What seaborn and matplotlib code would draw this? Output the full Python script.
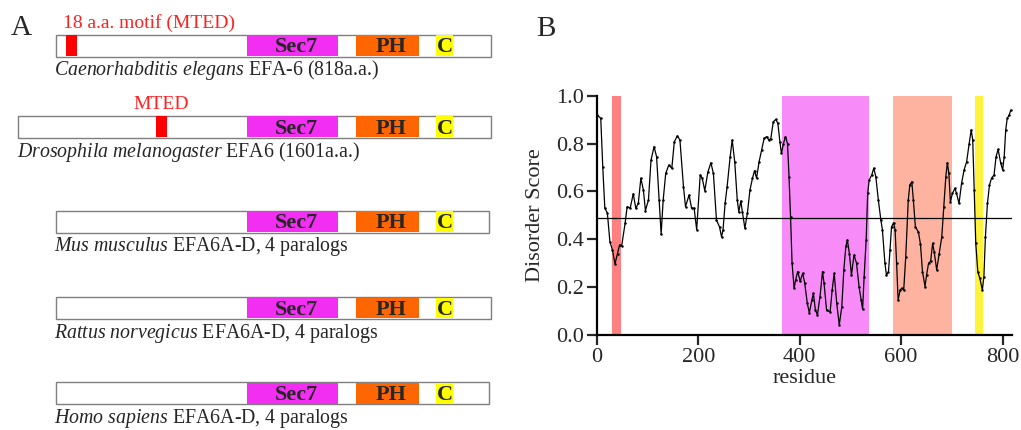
import numpy as np
import pandas as pd
import matplotlib
matplotlib.use("Agg")
import matplotlib.pyplot as plt
import seaborn as sns
from matplotlib.patches import Rectangle

# Panel A: schematic domain layout (units: C. elegans residues)
species = ["Caenorhabditis elegans", "Drosophila melanogaster", "Mus musculus",
           "Rattus norvegicus", "Homo sapiens"]
suffix = [" EFA-6 (818a.a.)", " EFA6 (1601a.a.)", " EFA6A-D, 4 paralogs",
          " EFA6A-D, 4 paralogs", " EFA6A-D, 4 paralogs"]
prot_start = [0, -70, 0, 0, 0]
prot_end = [818, 818, 815, 818, 815]
sec7 = (360, 530)
ph = (564, 683)
cterm = (714, 746)
mted = [(19, 40), (189, 209), None, None, None]
mted_label = ["18 a.a. motif (MTED)", "MTED", None, None, None]

# Panel B: disorder score per residue
residue = [1, 8, 12, 16, 21, 26, 31, 36, 41, 45, 49, 56, 60, 66, 72, 77, 82, 87, 92, 96,
           102, 107, 113, 118, 123, 127, 131, 136, 142, 148, 153, 159, 164, 171, 175, 182,
           187, 192, 197, 204, 208, 213, 219, 225, 230, 236, 242, 246, 249, 253, 257, 263,
           267, 272, 277, 280, 284, 287, 292, 297, 302, 307, 311, 315, 320, 325, 330, 335,
           339, 343, 348, 353, 357, 361, 364, 368, 372, 376, 379, 382, 385, 389, 392, 396,
           401, 406, 410, 415, 419, 424, 427, 431, 435, 440, 445, 448, 453, 460, 464, 468,
           473, 478, 483, 487, 491, 494, 498, 502, 507, 512, 517, 521, 524, 527, 531, 534,
           537, 542, 546, 550, 555, 560, 563, 568, 571, 575, 578, 581, 585, 588, 591, 594,
           598, 601, 605, 609, 614, 617, 621, 624, 628, 634, 638, 642, 647, 650, 654, 658,
           662, 665, 670, 675, 680, 684, 688, 691, 694, 697, 701, 706, 709, 714, 719, 724,
           729, 734, 738, 741, 744, 747, 751, 755, 760, 763, 766, 770, 774, 778, 783, 787,
           791, 796, 800, 803, 806, 809, 813, 816]
score = [0.92, 0.905, 0.70, 0.53, 0.51, 0.39, 0.355, 0.297, 0.34, 0.376, 0.37, 0.467, 0.536,
         0.53, 0.59, 0.53, 0.55, 0.655, 0.606, 0.52, 0.564, 0.73, 0.787, 0.745, 0.564, 0.422,
         0.564, 0.675, 0.71, 0.697, 0.808, 0.832, 0.815, 0.62, 0.536, 0.585, 0.53, 0.53, 0.44,
         0.669, 0.655, 0.603, 0.68, 0.72, 0.675, 0.48, 0.452, 0.41, 0.44, 0.55, 0.62, 0.745,
         0.815, 0.724, 0.564, 0.515, 0.56, 0.515, 0.446, 0.51, 0.606, 0.655, 0.687, 0.655,
         0.724, 0.773, 0.822, 0.829, 0.815, 0.82, 0.891, 0.901, 0.885, 0.808, 0.759, 0.80,
         0.829, 0.80, 0.662, 0.494, 0.30, 0.195, 0.23, 0.265, 0.225, 0.258, 0.216, 0.132,
         0.093, 0.146, 0.174, 0.104, 0.084, 0.16, 0.265, 0.216, 0.104, 0.097, 0.188, 0.258,
         0.132, 0.042, 0.118, 0.272, 0.37, 0.397, 0.34, 0.25, 0.334, 0.30, 0.202, 0.146,
         0.107, 0.244, 0.397, 0.592, 0.648, 0.669, 0.697, 0.662, 0.564, 0.48, 0.44, 0.30,
         0.25, 0.265, 0.355, 0.452, 0.469, 0.44, 0.30, 0.146, 0.188, 0.195, 0.188, 0.327,
         0.564, 0.627, 0.64, 0.564, 0.452, 0.43, 0.38, 0.265, 0.202, 0.25, 0.30, 0.308,
         0.383, 0.348, 0.272, 0.34, 0.41, 0.536, 0.662, 0.72, 0.675, 0.557, 0.592, 0.613,
         0.592, 0.55, 0.634, 0.69, 0.724, 0.80, 0.857, 0.815, 0.606, 0.383, 0.265, 0.237,
         0.188, 0.244, 0.41, 0.55, 0.627, 0.655, 0.669, 0.745, 0.776, 0.72, 0.69, 0.745,
         0.857, 0.905, 0.92, 0.94]
threshold = 0.49
regions = [(30, 48), (366, 537), (583, 700), (745, 762)]
region_colors = ["#ff8080", "#f78cf8", "#fdb3a0", "#fff23a"]

df = pd.DataFrame({"residue": residue, "score": score})

sns.set_theme(style="white")
plt.rcParams["font.family"] = ["Liberation Serif", "DejaVu Serif"]
plt.rcParams["mathtext.fontset"] = "custom"
plt.rcParams["mathtext.rm"] = "Liberation Serif"
plt.rcParams["mathtext.it"] = "Liberation Serif:italic"
plt.rcParams["mathtext.bf"] = "Liberation Serif:bold"

fig = plt.figure(figsize=(10.21, 4.30), dpi=100)

# ---- panel A ----
axA = fig.add_axes([0, 0, 510 / 1021, 1])
scale = 435.3 / 818
axA.set_xlim(-55.7 / scale, 454.3 / scale)
axA.set_ylim(430, 0)
axA.axis("off")

row_y = [45.5, 126.7, 221.5, 307.9, 393.4]
bar_h = 22
for i, name in enumerate(species):
    yc = row_y[i]
    y0 = yc - bar_h / 2
    axA.add_patch(Rectangle((prot_start[i], y0), prot_end[i] - prot_start[i], bar_h,
                            facecolor="white", edgecolor="#7f7f7f", lw=1.0, zorder=1))
    for (a, b), col in [(sec7, "#f22ef2"), (ph, "#ff6600"), (cterm, "#ffff00")]:
        axA.add_patch(Rectangle((a, y0 + 0.6), b - a, bar_h - 1.2, facecolor=col,
                                edgecolor="none", zorder=2))
    axA.text(sum(sec7) / 2 + 8, yc + 2, "Sec7", ha="center", va="center",
             fontsize=16, fontweight="bold", zorder=3)
    axA.text(sum(ph) / 2 + 6, yc + 2, "PH", ha="center", va="center",
             fontsize=16, fontweight="bold", zorder=3)
    axA.text(sum(cterm) / 2 + 1, yc + 2, "C", ha="center", va="center",
             fontsize=16, fontweight="bold", zorder=3)
    if mted[i] is not None:
        a, b = mted[i]
        axA.add_patch(Rectangle((a, y0 + 0.6), b - a, bar_h - 1.2, facecolor="#ff0000",
                                edgecolor="none", zorder=2))
        lx = a - 6 if i == 0 else (a + b) / 2
        axA.text(lx, y0 - 3, mted_label[i], color="#ff2020", fontsize=14,
                 ha="left" if i == 0 else "center", va="bottom")
    axA.text(prot_start[i] - 3, yc + 30, r"$\it{" + name.replace(" ", r"\ ") + "}$" + suffix[i],
             fontsize=14.3, ha="left", va="baseline")

axA.text(-84, 35, "A", fontsize=21, va="baseline", ha="left")

# ---- panel B ----
axB = fig.add_axes([596.7 / 1021, 95 / 430, 415.1 / 1021, 239.3 / 430])
for (a, b), col in zip(regions, region_colors):
    axB.axvspan(a, b, color=col, lw=0, zorder=0)
axB.axhline(threshold, color="black", lw=0.9, zorder=2)
sns.lineplot(data=df, x="residue", y="score", ax=axB, color="black", lw=0.9,
             marker="o", markersize=1.8, markeredgewidth=0, zorder=3)
axB.set_xlim(0, 818)
axB.set_ylim(0, 1.0)
axB.set_xticks([0, 200, 400, 600, 800])
axB.set_yticks([0.0, 0.2, 0.4, 0.6, 0.8, 1.0])
axB.set_yticklabels(["0.0", "0.2", "0.4", "0.6", "0.8", "1.0"])
axB.set_xlabel("residue", fontsize=16, labelpad=2)
axB.set_ylabel("Disorder Score", fontsize=16, labelpad=8)
axB.tick_params(axis="both", labelsize=16, direction="out", length=7, width=1.6,
                bottom=True, left=True, pad=2)
sns.despine(ax=axB)
for s in ["left", "bottom"]:
    axB.spines[s].set_linewidth(1.6)
    axB.spines[s].set_color("black")

fig.text(536 / 1021, 1 - 36 / 430, "B", fontsize=21, va="baseline", ha="left")

fig.savefig("out.png", dpi=100)
